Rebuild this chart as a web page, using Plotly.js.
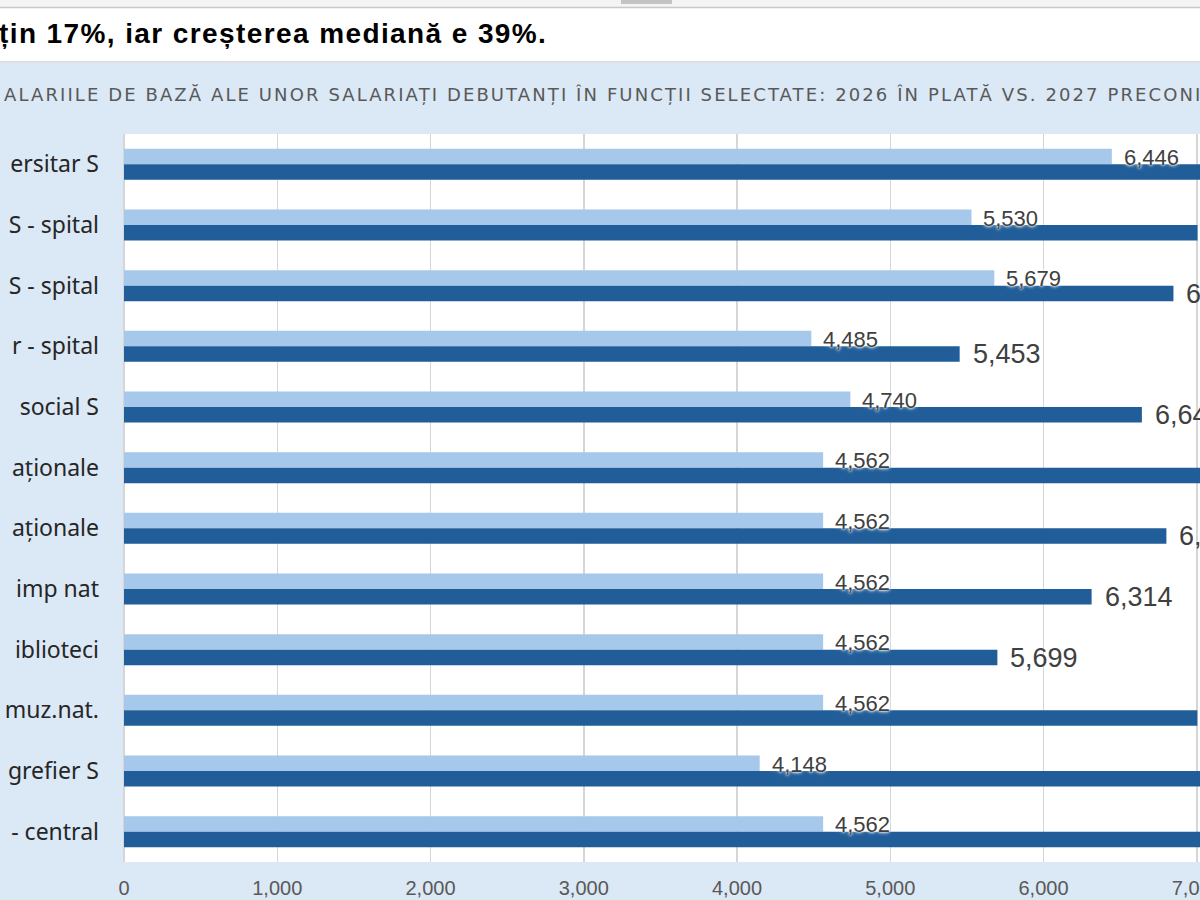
<!DOCTYPE html>
<html>
<head>
<meta charset="utf-8">
<script src="https://cdn.plot.ly/plotly-3.0.1.min.js"></script>
<style>
html, body { margin: 0; padding: 0; overflow: hidden; background: #dbe8f5; }
#chart { width: 1400px; height: 900px; }
</style>
</head>
<body>
<div id="chart"></div>
<script>
// ---- data ----
const categories = ["ersitar S", "S - spital", "S - spital", "r - spital", "social S", "aționale",
                    "aționale", "imp nat", "iblioteci", "muz.nat.", "grefier S", "- central"];
const salary2026 = [6446, 5530, 5679, 4485, 4740, 4562, 4562, 4562, 4562, 4562, 4148, 4562];
const salary2027 = [7812, 7005, 6848, 5453, 6642, 7210, 6802, 6314, 5699, 7004, 7150, 7300];
const xTickVals = [0, 1000, 2000, 3000, 4000, 5000, 6000, 7000, 8000];
const headline = "țin 17%, iar creșterea mediană e 39%.";
const chartTitle = "ALARIILE DE BAZĂ ALE UNOR SALARIAȚI DEBUTANȚI ÎN FUNCȚII SELECTATE: 2026 ÎN PLATĂ VS. 2027 PRECONIZAT";

// ---- geometry ----
const W = 1400, H = 900;
const M = { l: 124, r: 50, t: 134, b: 38 };
const PW = W - M.l - M.r, PH = H - M.t - M.b;
const px2x = px => (px - M.l) / PW;
const px2y = py => (H - M.b - py) / PH;

const idx = categories.map((_, i) => i);
const fmt = v => v.toLocaleString('en-US');

const LIGHT = '#a6c8ea';
const DARK = '#215e99';

const traces = [
  { type: 'bar', orientation: 'h', name: '2026', y: idx, x: salary2026,
    marker: { color: LIGHT }, hoverinfo: 'x' },
  { type: 'bar', orientation: 'h', name: '2027', y: idx, x: salary2027,
    marker: { color: DARK }, hoverinfo: 'x' }
];

const halo = '0 0 2px #ffffff, 0 0 3px #ffffff, 0 0 4px #ffffff';
const annotations = [];
idx.forEach(i => {
  annotations.push({
    x: salary2026[i], y: i, xref: 'x', yref: 'y', text: fmt(salary2026[i]),
    showarrow: false, xanchor: 'left', yanchor: 'middle', xshift: 10, yshift: 7,
    font: { family: 'Liberation Sans, Arial, sans-serif', size: 22, color: '#404040', shadow: halo }
  });
  annotations.push({
    x: salary2027[i], y: i, xref: 'x', yref: 'y', text: fmt(salary2027[i]),
    showarrow: false, xanchor: 'left', yanchor: 'middle', xshift: 11, yshift: -8,
    font: { family: 'Liberation Sans, Arial, sans-serif', size: 27, color: '#404040' }
  });
});
annotations.push({
  xref: 'paper', yref: 'paper', x: px2x(-3), y: px2y(33), xanchor: 'left', yanchor: 'middle',
  text: '<b>' + headline + '</b>', showarrow: false,
  font: { family: 'Liberation Sans, Arial, sans-serif', size: 28, color: '#000000' }
});
annotations.push({
  xref: 'paper', yref: 'paper', x: px2x(2), y: px2y(95), xanchor: 'left', yanchor: 'middle',
  text: chartTitle, showarrow: false,
  font: { family: 'DejaVu Sans, Liberation Sans, sans-serif', size: 18, color: '#595959' }
});

const shapes = [
  { type: 'rect', xref: 'paper', yref: 'paper', x0: px2x(0), x1: px2x(W), y0: px2y(0), y1: px2y(63),
    fillcolor: '#ffffff', line: { width: 0 }, layer: 'below' },
  { type: 'rect', xref: 'paper', yref: 'paper', x0: px2x(0), x1: px2x(W), y0: px2y(0), y1: px2y(7),
    fillcolor: '#f4f4f4', line: { width: 0 }, layer: 'below' },
  { type: 'rect', xref: 'paper', yref: 'paper', x0: px2x(621), x1: px2x(672), y0: px2y(0), y1: px2y(4),
    fillcolor: '#c4c4c4', line: { width: 0 } },
  { type: 'line', xref: 'paper', yref: 'paper', x0: px2x(0), x1: px2x(W), y0: px2y(7.5), y1: px2y(7.5),
    line: { color: '#c8c8c8', width: 1.5 } },
  { type: 'line', xref: 'paper', yref: 'paper', x0: px2x(0), x1: px2x(W), y0: px2y(62), y1: px2y(62),
    line: { color: '#d4d4d4', width: 1.5 } }
];

const layout = {
  width: W, height: H,
  margin: M,
  paper_bgcolor: '#dbe8f5',
  plot_bgcolor: '#ffffff',
  barmode: 'group',
  bargap: 0.49,
  bargroupgap: 0,
  showlegend: false,
  xaxis: {
    range: [0, 8000], tickvals: xTickVals, ticktext: xTickVals.map(fmt),
    showgrid: true, gridcolor: '#d6d6d6', gridwidth: 1.5,
    zeroline: true, zerolinecolor: '#d6d6d6', zerolinewidth: 1.5,
    ticks: '', ticklabelstandoff: 12,
    tickfont: { family: 'Liberation Sans, Arial, sans-serif', size: 20, color: '#595959' },
    fixedrange: true
  },
  yaxis: {
    range: [11.5, -0.5], tickvals: idx, ticktext: categories,
    showgrid: false, zeroline: false, ticks: '', ticklabelstandoff: 24,
    tickfont: { family: 'Noto Sans, Lato, sans-serif', size: 23, color: '#262626' },
    fixedrange: true
  },
  annotations: annotations,
  shapes: shapes
};

function spreadText(el, spacing) {
  const before = el.getBBox();
  el.style.letterSpacing = spacing;
  const after = el.getBBox();
  const dx = before.x - after.x;
  const prev = el.getAttribute('transform') || '';
  el.setAttribute('transform', prev + ' translate(' + dx + ',0)');
}

Plotly.newPlot('chart', traces, layout, { displayModeBar: false, staticPlot: true }).then(gd => {
  gd.querySelectorAll('.annotation-text').forEach(el => {
    const t = el.textContent;
    if (t === chartTitle) spreadText(el, '2.1px');
    if (t === headline) spreadText(el, '1.4px');
  });
});
</script>
</body>
</html>
